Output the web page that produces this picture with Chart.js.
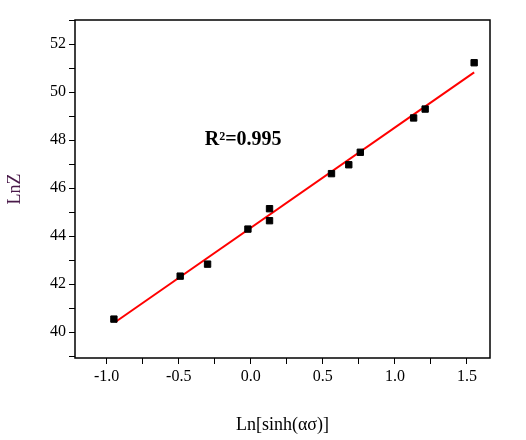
<!DOCTYPE html>
<html><head><script src="https://cdn.jsdelivr.net/npm/chart.js@4"></script>
<style>body{margin:0;background:#fff}#w{width:526px;height:440px}</style></head>
<body><div id="w"><canvas id="c"></canvas></div>
<script>
const xVals=[-0.95,-0.49,-0.30,-0.02,0.13,0.13,0.56,0.68,0.76,1.13,1.21,1.55];
const yVals=[40.54,42.33,42.83,44.29,45.14,44.64,46.60,46.97,47.49,48.92,49.29,51.22];
const fitX=[-0.94,1.55];
const fitY=[40.42,50.82];
const annot='R²=0.995';
const F='Liberation Serif';
const box={id:'box',afterDraw(c){const a=c.chartArea,x=c.ctx;x.save();x.strokeStyle='#000';x.lineWidth=1.5;x.strokeRect(a.left,a.top,a.right-a.left,a.bottom-a.top);
x.font='bold 20px '+F;x.fillStyle='#000';x.textBaseline='middle';x.fillText(annot,c.scales.x.getPixelForValue(-0.32),c.scales.y.getPixelForValue(48.0));x.restore();}};
new Chart(document.getElementById('c'),{type:'scatter',
data:{datasets:[
{data:xVals.map((v,i)=>({x:v,y:yVals[i]})),pointStyle:'rect',pointRadius:4.5,backgroundColor:'#000',borderColor:'#000'},
{type:'line',data:fitX.map((v,i)=>({x:v,y:fitY[i]})),borderColor:'#f00',borderWidth:2,pointRadius:0}]},
plugins:[box],
options:{responsive:true,maintainAspectRatio:false,animation:false,layout:{padding:{top:20,right:36,left:0,bottom:0}},
plugins:{legend:{display:false},tooltip:{enabled:false}},
scales:{
x:{type:'linear',min:-1.22,max:1.66,afterFit(s){s.height=82},afterBuildTicks(s){const t=[];for(let v=-1;v<=1.51;v+=0.25)t.push({value:Math.round(v*100)/100});s.ticks=t;},
grid:{display:true,drawOnChartArea:false,drawTicks:true,tickLength:6,color:'#000',tickColor:'#000'},border:{display:false},
ticks:{color:'#000',font:{family:F,size:16},autoSkip:false,maxRotation:0,callback:v=>Math.abs(v*2-Math.round(v*2))<1e-6?v.toFixed(1):''},
title:{display:true,text:'Ln[sinh(ασ)]',color:'#000',font:{family:F,size:18},padding:{top:16}}},
y:{min:38.92,max:53.0,afterFit(s){s.width=75},afterBuildTicks(s){const t=[];for(let v=39;v<=53;v++)t.push({value:v});s.ticks=t;},
grid:{display:true,drawOnChartArea:false,tickLength:6,color:'#000',tickColor:'#000'},border:{display:false},
ticks:{color:'#000',font:{family:F,size:16},autoSkip:false,callback:v=>v%2===0?String(v):''},
title:{display:true,text:'LnZ',color:'#4a1a4a',font:{family:F,size:18}}}}}});
</script></body></html>
